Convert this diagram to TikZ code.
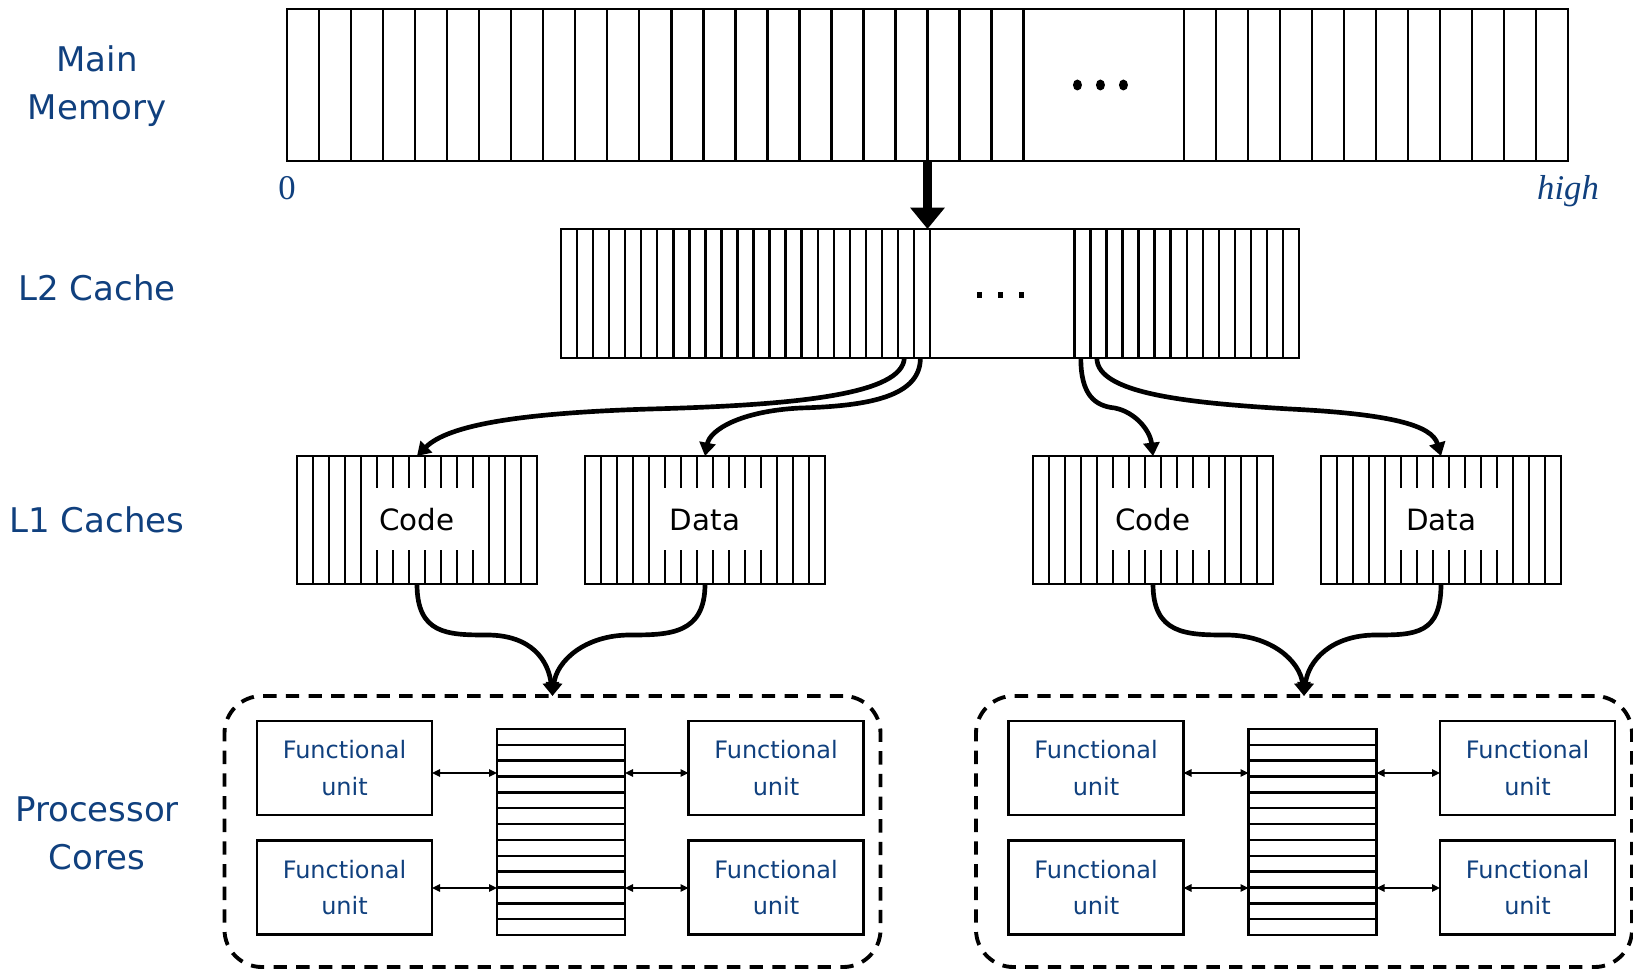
\documentclass[tikz,border=0pt]{standalone}
\usepackage{fontspec}
\setmainfont{DejaVu Sans}
\newfontfamily\addrfont{Liberation Serif}
\usetikzlibrary{arrows.meta,calc}
\definecolor{labelblue}{RGB}{16,64,126}
\newlength\pxu
\setlength\pxu{0.75pt}
\begin{document}
\begin{tikzpicture}[x=0.75pt,y=-0.75pt,
  box/.style={draw,line width=1.9pt,inner sep=0pt,outer sep=0pt},
  cell/.style={line width=1.8pt},
  level/.style={text=labelblue,font=\fontsize{25.5}{36}\selectfont,align=center},
  addr/.style={text=labelblue,font=\addrfont\fontsize{26}{30}\selectfont,anchor=base},
  l1box/.style={box,minimum width=240\pxu,minimum height=128\pxu,font=\fontsize{22}{26}\selectfont},
  core/.style={draw,dash pattern=on 10pt off 7pt,line width=2.9pt,rounded corners=28pt,
    minimum width=656\pxu,minimum height=271\pxu,inner sep=0pt,outer sep=0pt},
  fu/.style={box,minimum width=175\pxu,minimum height=94\pxu,text=labelblue,
    font=\fontsize{18}{27.5}\selectfont,align=center},
  regfile/.style={box,minimum width=128\pxu,minimum height=206\pxu},
  feed/.style={line width=3.5pt,-{Triangle[width=12pt,length=10pt]}},
  link/.style={line width=1.2pt,{Triangle[width=5.5pt,length=6pt]}-{Triangle[width=5.5pt,length=6pt]}},
  bigfeed/.style={line width=7pt,-{Triangle[width=25pt,length=16pt]}}
]
\useasboundingbox (0,0) rectangle (1633,969);
\def\memw{32.025}
\def\ltw{16.0435}

% level captions
\node[level] (lvMem) at (97,86) {Main\\Memory};
\node[level] (lvL2) at (97,288) {L2 Cache};
\node[level] (lvL1) at (97,520) {L1 Caches};
\node[level] (lvCore) at (97,833) {Processor\\Cores};

% main memory: 40 slots, slots 24-28 replaced by an ellipsis
\node[box,minimum width=1281\pxu,minimum height=152\pxu] (mem) at (927.5,85) {};
\foreach \i in {1,...,23} \draw[cell] ($(mem.north west)+(\i*\memw,0)$) -- ($(mem.south west)+(\i*\memw,0)$);
\foreach \i in {28,...,39} \draw[cell] ($(mem.north west)+(\i*\memw,0)$) -- ($(mem.south west)+(\i*\memw,0)$);
\coordinate (memgap) at ($(mem.west)+(25.4*\memw,0)$);
\foreach \dx in {-23,0,23} \fill ($(memgap)+(\dx,0)$) ellipse [x radius=4.5, y radius=5.5];
\node[addr] (lo) at (287,200) {0};
\node[addr] (hi) at (1568,200) {\itshape high};

% L2 cache: 46 slots, slots 24-32 replaced by an ellipsis
\node[box,minimum width=738\pxu,minimum height=129\pxu] (l2) at (930,293.5) {};
\foreach \i in {1,...,23} \draw[cell] ($(l2.north west)+(\i*\ltw,0)$) -- ($(l2.south west)+(\i*\ltw,0)$);
\foreach \i in {32,...,45} \draw[cell] ($(l2.north west)+(\i*\ltw,0)$) -- ($(l2.south west)+(\i*\ltw,0)$);
\coordinate (l2gap) at ($(l2.west)+(27.4*\ltw,1.5)$);
\foreach \dx in {-21,0,21} \fill ($(l2gap)+(\dx-2.5,-3)$) rectangle ++(5,6);

% memory to L2 transfer
\coordinate (memout) at ($(mem.south west)+(20*\memw,0)$);
\draw[bigfeed] (memout) -- (memout |- l2.north);

% L1 caches
\node[l1box] (codeA) at (417,520) {Code};
\node[l1box] (dataA) at (705,520) {Data};
\node[l1box] (codeB) at (1153,520) {Code};
\node[l1box] (dataB) at (1441,520) {Data};
\foreach \b in {codeA,dataA,codeB,dataB} {
  \foreach \i in {1,...,4,12,13,14}
    \draw[cell] ($(\b.north west)+(\i*16,0)$) -- ($(\b.south west)+(\i*16,0)$);
  \foreach \i in {5,...,11} {
    \draw[cell] ($(\b.north west)+(\i*16,0)$) -- +(0,32);
    \draw[cell] ($(\b.south west)+(\i*16,0)$) -- +(0,-34);
  }
}

% L2 to L1 fills
\coordinate (oA) at ($(l2.south west)+(21.4*\ltw,0)$);
\coordinate (oB) at ($(l2.south west)+(22.4*\ltw,0)$);
\coordinate (oC) at ($(l2.south west)+(32.4*\ltw,0)$);
\coordinate (oD) at ($(l2.south west)+(33.4*\ltw,0)$);
\draw[feed] (oA) .. controls +(-2,36) and +(150,-4) .. ++(-254,51)
  .. controls +(-130,4) and +(31,-31) .. (codeA.north);
\draw[feed] (oB) .. controls +(0,38) and +(70,-2) .. ++(-120,50)
  .. controls +(-60,3) and +(5,-26) .. (dataA.north);
\draw[feed] (oC) .. controls +(0,37) and +(-20,-2) .. ++(34,50)
  .. controls +(20,4) and +(-3,-26) .. (codeB.north);
\draw[feed] (oD) .. controls +(0,36) and +(-100,-6) .. ++(193,51)
  .. controls +(100,5) and +(-9,-31) .. (dataB.north);

% processor cores
\node[core] (coreA) at (552.5,831.5) {};
\node[core] (coreB) at (1304,831.5) {};
\foreach \c in {A,B} {
  \node[fu] (fu\c1) at ($(core\c.center)+(-208,-63.5)$) {Functional\\unit};
  \node[fu] (fu\c2) at ($(core\c.center)+(-208,56)$) {Functional\\unit};
  \node[fu] (fu\c3) at ($(core\c.center)+(223.5,-63.5)$) {Functional\\unit};
  \node[fu] (fu\c4) at ($(core\c.center)+(223.5,56)$) {Functional\\unit};
  \node[regfile] (rf\c) at ($(core\c.center)+(8.5,0.5)$) {};
  \foreach \j in {1,...,12}
    \draw[cell] ($(rf\c.north west)+(0,\j*15.846)$) -- ($(rf\c.north east)+(0,\j*15.846)$);
  \path ($(fu\c1.east)+(0,5)$) coordinate (p1) ($(fu\c2.east)+(0,0.5)$) coordinate (p2)
        ($(fu\c3.west)+(0,5)$) coordinate (p3) ($(fu\c4.west)+(0,0.5)$) coordinate (p4);
  \draw[link] (p1) -- (p1 -| rf\c.west);
  \draw[link] (p2) -- (p2 -| rf\c.west);
  \draw[link] (p3 -| rf\c.east) -- (p3);
  \draw[link] (p4 -| rf\c.east) -- (p4);
}

% L1 to core feeds
\draw[feed] (codeA.south) .. controls +(0,50) and +(-40,0) .. ++(70,51)
  .. controls +(45,0) and +(-4,-35) .. (coreA.north);
\draw[feed] (dataA.south) .. controls +(0,50) and +(40,0) .. ++(-75,51)
  .. controls +(-45,0) and +(4,-35) .. (coreA.north);
\draw[feed] (codeB.south) .. controls +(0,50) and +(-40,0) .. ++(73,51)
  .. controls +(45,0) and +(-4,-35) .. (coreB.north);
\draw[feed] (dataB.south) .. controls +(0,50) and +(40,0) .. ++(-65,51)
  .. controls +(-45,0) and +(4,-35) .. (coreB.north);
\end{tikzpicture}
\end{document}
